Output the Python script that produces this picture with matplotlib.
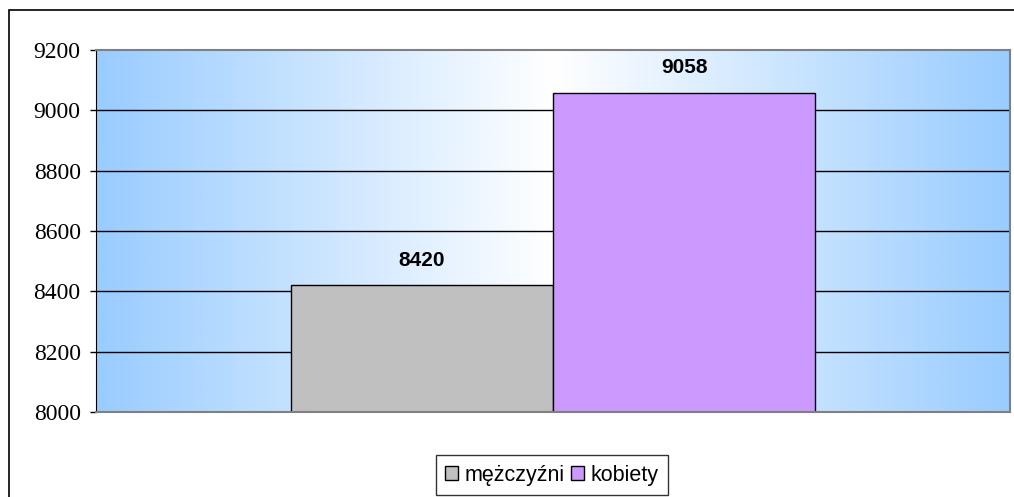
import numpy as np
import matplotlib
matplotlib.use("Agg")
import matplotlib.pyplot as plt
from matplotlib.patches import Rectangle, Patch
from matplotlib.colors import LinearSegmentedColormap

categories = ["mężczyźni", "kobiety"]
values = [8420, 9058]
colors = ["#C0C0C0", "#CC99FF"]
yticks = [8000, 8200, 8400, 8600, 8800, 9000, 9200]

plt.rcParams["font.serif"] = ["Liberation Serif", "DejaVu Serif"]

W, H = 1014, 497
fig = plt.figure(figsize=(W/100, H/100), dpi=100)

# outer chart frame
fig.patches.append(Rectangle((9/W, -0.1), 1.2, 1 - 10/H + 0.1, transform=fig.transFigure,
                             fill=False, edgecolor="black", linewidth=1.2, zorder=0))

ax = fig.add_axes([96/W, 1 - 412/H, (1010-96)/W, (412-50)/H])
ax.set_xlim(-0.5, 0.5)
ax.set_ylim(8000, 9200)

# horizontal gradient background: blue at edges, white in centre
cmap = LinearSegmentedColormap.from_list("bg", ["#99CCFF", "#FFFFFF", "#99CCFF"])
grad = np.linspace(0, 1, 512).reshape(1, -1)
ax.imshow(grad, cmap=cmap, aspect="auto", extent=[0, 1, 0, 1],
          transform=ax.transAxes, zorder=0)

for y in yticks[1:-1]:
    ax.axhline(y, color="black", linewidth=1, zorder=1)

bw = 0.287
offsets = [-bw/2, bw/2]
for off, v, c in zip(offsets, values, colors):
    ax.bar(off, v - 8000, bottom=8000, width=bw, color=c, edgecolor="black",
           linewidth=1, zorder=2)
    ax.text(off, v + 52, f"{v}", ha="center", va="bottom", fontsize=15,
            fontweight="bold", family="Liberation Sans", zorder=3)

ax.set_yticks(yticks)
ax.set_yticklabels([str(t) for t in yticks])
ax.set_xticks([])
ax.tick_params(axis="y", direction="out", length=4, width=1, color="black", pad=7,
               labelsize=17, labelfontfamily="serif")
ax.spines["left"].set_color("black")
for s in ["top", "right", "bottom"]:
    ax.spines[s].set_color("#808080")
    ax.spines[s].set_linewidth(1.5)

handles = [Patch(facecolor=c, edgecolor="black", label=l) for c, l in zip(colors, categories)]
leg = fig.legend(handles=handles, loc="center", bbox_to_anchor=(552/W, 1 - 475/H),
                 ncol=2, frameon=True, fancybox=False, edgecolor="black",
                 prop={"family": "Liberation Sans", "size": 15.5},
                 handlelength=0.6, handleheight=0.6, handletextpad=0.3,
                 columnspacing=0.3, borderpad=0.45, borderaxespad=0)
leg.get_frame().set_linewidth(1)

fig.savefig("out.png", dpi=100)
